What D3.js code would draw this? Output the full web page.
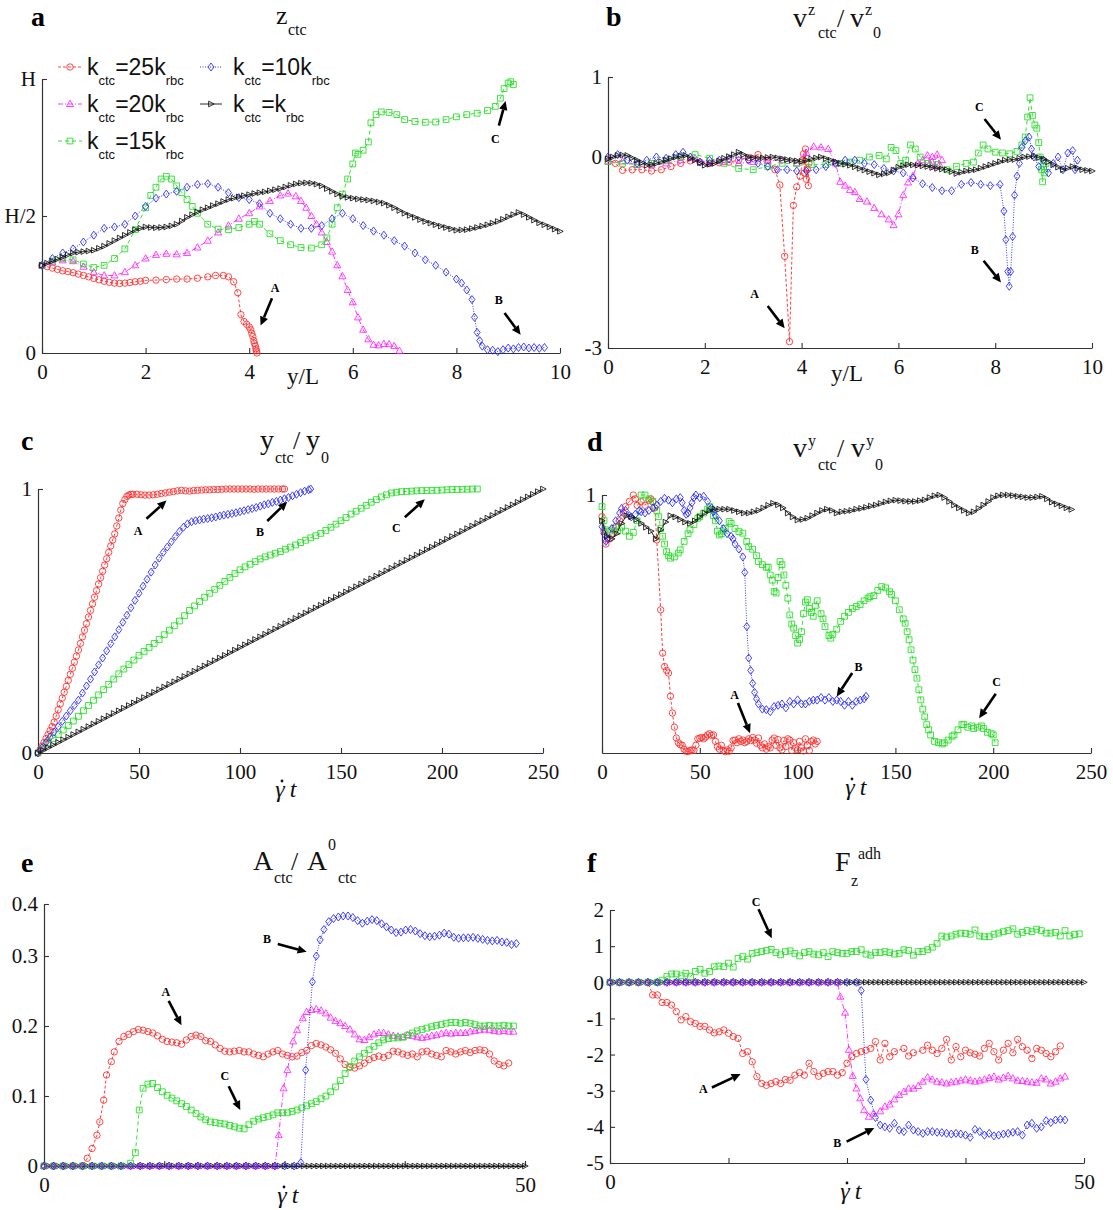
<!DOCTYPE html>
<html><head><meta charset="utf-8">
<script src="https://cdn.jsdelivr.net/npm/d3@7"></script>
<style>body{margin:0;background:#fff}</style>
</head><body>
<svg id="fig" width="1113" height="1210" xmlns="http://www.w3.org/2000/svg"></svg>
<script>
// ---------------- DATA ----------------
// panel a : z_ctc vs y/L   [y/L, z/H]
const aRed = [[0,0.32],[0.1,0.315],[0.2,0.31],[0.3,0.305],[0.4,0.30],[0.5,0.297],[0.6,0.293],[0.7,0.288],[0.8,0.283],[0.9,0.278],[1.0,0.272],[1.1,0.267],[1.2,0.262],[1.3,0.258],[1.4,0.255],[1.5,0.254],[1.6,0.255],[1.7,0.257],[1.8,0.26],[1.9,0.262],[2.0,0.265],[2.2,0.266],[2.4,0.268],[2.6,0.27],[2.8,0.27],[3.0,0.273],[3.2,0.278],[3.35,0.283],[3.5,0.283],[3.6,0.278],[3.7,0.26],[3.78,0.22],[3.84,0.14],[3.9,0.115],[3.95,0.105],[4.0,0.095],[4.03,0.085],[4.05,0.072],[4.07,0.06],[4.09,0.045],[4.1,0.035],[4.12,0.025],[4.13,0.015],[4.14,0.008],[4.15,0.0]];
const aMag = [[0,0.32],[0.2,0.33],[0.4,0.338],[0.6,0.335],[0.8,0.315],[1.0,0.295],[1.2,0.283],[1.4,0.283],[1.6,0.295],[1.8,0.32],[2.0,0.345],[2.2,0.358],[2.4,0.362],[2.6,0.36],[2.8,0.365],[3.0,0.385],[3.2,0.41],[3.4,0.44],[3.6,0.465],[3.8,0.49],[4.0,0.51],[4.2,0.535],[4.4,0.555],[4.6,0.575],[4.75,0.582],[4.9,0.572],[5.0,0.555],[5.1,0.53],[5.2,0.5],[5.3,0.47],[5.4,0.44],[5.5,0.405],[5.6,0.37],[5.7,0.32],[5.8,0.28],[5.9,0.23],[6.0,0.185],[6.1,0.13],[6.2,0.085],[6.3,0.05],[6.4,0.03],[6.5,0.028],[6.6,0.033],[6.7,0.032],[6.8,0.025],[6.9,0.008]];
const aGreen = [[0,0.32],[0.2,0.335],[0.4,0.345],[0.6,0.34],[0.8,0.325],[1.0,0.312],[1.2,0.32],[1.4,0.345],[1.6,0.38],[1.8,0.45],[2.0,0.53],[2.1,0.575],[2.2,0.605],[2.3,0.635],[2.4,0.645],[2.5,0.635],[2.6,0.61],[2.7,0.585],[2.8,0.56],[2.9,0.535],[3.0,0.51],[3.2,0.47],[3.4,0.452],[3.6,0.45],[3.8,0.458],[4.0,0.47],[4.1,0.48],[4.2,0.47],[4.4,0.435],[4.6,0.41],[4.8,0.395],[5.0,0.385],[5.2,0.383],[5.4,0.395],[5.5,0.42],[5.6,0.47],[5.7,0.53],[5.8,0.58],[5.9,0.635],[6.0,0.69],[6.05,0.73],[6.1,0.725],[6.2,0.74],[6.3,0.77],[6.35,0.84],[6.45,0.87],[6.55,0.88],[6.7,0.878],[6.85,0.87],[7.0,0.852],[7.2,0.845],[7.4,0.842],[7.6,0.843],[7.8,0.852],[8.0,0.862],[8.2,0.87],[8.4,0.875],[8.6,0.885],[8.75,0.9],[8.85,0.93],[8.92,0.965],[9.0,0.985],[9.05,0.99],[9.1,0.98]];
const aBlue = [[0,0.32],[0.2,0.345],[0.4,0.365],[0.6,0.38],[0.8,0.405],[1.0,0.43],[1.2,0.455],[1.4,0.46],[1.6,0.47],[1.8,0.5],[2.0,0.535],[2.2,0.565],[2.4,0.58],[2.6,0.59],[2.8,0.605],[3.0,0.615],[3.2,0.618],[3.4,0.605],[3.6,0.585],[3.8,0.567],[4.0,0.56],[4.2,0.545],[4.4,0.51],[4.6,0.49],[4.8,0.47],[5.0,0.455],[5.2,0.455],[5.4,0.465],[5.6,0.49],[5.8,0.51],[6.0,0.49],[6.2,0.465],[6.4,0.445],[6.6,0.43],[6.8,0.41],[7.0,0.39],[7.2,0.365],[7.4,0.34],[7.6,0.32],[7.8,0.295],[8.0,0.27],[8.1,0.255],[8.2,0.23],[8.3,0.195],[8.35,0.13],[8.4,0.075],[8.45,0.045],[8.5,0.025],[8.6,0.012],[8.7,0.01],[8.8,0.005],[8.9,0.012],[9.0,0.018],[9.1,0.015],[9.2,0.02],[9.3,0.022],[9.4,0.018],[9.5,0.02],[9.6,0.017],[9.7,0.02]];
const aBlackStep = 0.1;
const aBlack = [0.32,0.328,0.335,0.343,0.35,0.358,0.365,0.368,0.37,0.372,0.375,0.382,0.39,0.4,0.41,0.42,0.43,0.44,0.45,0.455,0.46,0.458,0.457,0.458,0.46,0.464,0.47,0.482,0.495,0.505,0.515,0.523,0.53,0.538,0.545,0.553,0.56,0.565,0.57,0.574,0.578,0.582,0.585,0.588,0.592,0.596,0.6,0.606,0.612,0.617,0.62,0.621,0.62,0.616,0.61,0.6,0.59,0.58,0.572,0.568,0.565,0.562,0.56,0.558,0.555,0.551,0.547,0.539,0.53,0.52,0.51,0.502,0.495,0.487,0.48,0.474,0.468,0.463,0.458,0.453,0.448,0.449,0.45,0.454,0.458,0.463,0.468,0.474,0.48,0.488,0.497,0.505,0.513,0.505,0.495,0.485,0.475,0.468,0.46,0.452,0.444];

// panel b : v^z_ctc / v^z_0 vs y/L
const bRed = [[0,-0.03],[0.15,-0.1],[0.3,-0.21],[0.5,-0.2],[0.7,-0.2],[0.9,-0.22],[1.1,-0.2],[1.3,-0.15],[1.5,-0.1],[1.7,-0.06],[1.9,-0.08],[2.1,-0.1],[2.3,-0.09],[2.5,-0.08],[2.7,-0.05],[2.9,-0.01],[3.1,0.03],[3.3,-0.05],[3.45,-0.2],[3.55,-0.44],[3.65,-1.56],[3.75,-2.9],[3.83,-0.76],[3.9,-0.47],[3.97,-0.3],[4.02,-0.05],[4.04,0.04],[4.06,-0.25],[4.08,0.1],[4.1,-0.35],[4.12,-0.2],[4.14,-0.45],[4.15,-0.1]];
const bMag = [[0,-0.07],[0.3,-0.07],[0.6,-0.12],[0.9,-0.13],[1.2,-0.1],[1.5,-0.05],[1.8,-0.02],[2.1,-0.1],[2.4,-0.08],[2.7,-0.1],[3.0,-0.08],[3.3,-0.06],[3.6,-0.05],[3.9,-0.1],[4.1,0.05],[4.25,0.13],[4.4,0.12],[4.55,0.1],[4.7,-0.1],[4.8,-0.39],[4.9,-0.45],[5.0,-0.52],[5.1,-0.55],[5.2,-0.66],[5.35,-0.7],[5.5,-0.8],[5.65,-0.9],[5.8,-0.98],[5.9,-1.07],[6.0,-0.9],[6.1,-0.6],[6.2,-0.4],[6.3,-0.3],[6.4,-0.1],[6.5,-0.05],[6.6,0.02],[6.65,-0.1],[6.7,0.0],[6.75,-0.15],[6.8,0.03],[6.85,-0.12],[6.9,-0.05]];
const bGreen = [[0,-0.07],[0.3,-0.1],[0.6,-0.12],[0.9,-0.1],[1.2,-0.06],[1.5,0.0],[1.8,0.03],[2.1,-0.02],[2.4,-0.1],[2.7,-0.18],[3.0,-0.2],[3.3,-0.15],[3.6,-0.1],[3.9,-0.1],[4.2,-0.12],[4.5,-0.12],[4.8,-0.1],[5.0,-0.08],[5.2,-0.05],[5.4,0.0],[5.6,0.02],[5.75,-0.03],[5.85,0.12],[5.95,0.08],[6.05,-0.1],[6.15,-0.05],[6.25,0.15],[6.35,0.1],[6.45,0.0],[6.6,-0.1],[6.8,-0.12],[7.0,-0.2],[7.2,-0.15],[7.4,-0.1],[7.55,-0.08],[7.65,0.05],[7.75,0.15],[7.85,0.1],[8.0,0.06],[8.15,0.05],[8.3,0.04],[8.45,0.07],[8.55,0.15],[8.62,0.25],[8.67,0.5],[8.72,0.74],[8.77,0.52],[8.82,0.4],[8.86,0.36],[8.9,0.18],[8.93,0.0],[8.96,-0.2],[8.98,-0.39],[9.0,-0.15],[9.02,-0.25],[9.05,-0.1]];
const bBlue = [[0,0.0],[0.2,0.03],[0.4,-0.05],[0.6,-0.1],[0.8,-0.05],[1.0,0.0],[1.2,-0.02],[1.4,0.03],[1.55,0.06],[1.7,0.0],[1.9,-0.08],[2.1,-0.05],[2.3,-0.05],[2.5,-0.03],[2.7,0.0],[2.9,-0.05],[3.1,-0.1],[3.3,-0.15],[3.5,-0.2],[3.7,-0.2],[3.9,-0.22],[4.1,-0.22],[4.3,-0.2],[4.5,-0.15],[4.7,-0.1],[4.9,-0.05],[5.1,-0.05],[5.3,-0.1],[5.5,-0.12],[5.7,-0.18],[5.9,-0.22],[6.1,-0.25],[6.3,-0.33],[6.5,-0.42],[6.7,-0.48],[6.9,-0.53],[7.1,-0.53],[7.3,-0.43],[7.5,-0.4],[7.7,-0.43],[7.9,-0.45],[8.1,-0.43],[8.18,-0.85],[8.22,-1.3],[8.26,-1.8],[8.29,-2.03],[8.32,-1.8],[8.36,-1.25],[8.4,-0.6],[8.45,-0.3],[8.5,-0.1],[8.55,0.12],[8.62,0.2],[8.7,0.25],[8.75,0.1],[8.8,0.0],[8.9,-0.15],[9.0,-0.05],[9.1,-0.25],[9.2,-0.1],[9.3,0.0],[9.4,-0.2],[9.5,0.05],[9.6,0.08],[9.65,-0.2],[9.7,-0.05]];
const bBlackStep = 0.1;
const bBlack = [-0.03,0.0,0.02,0.025,0.02,-0.015,-0.05,-0.09,-0.13,-0.12,-0.1,-0.075,-0.05,-0.025,0.0,0.01,0.02,-0.015,-0.05,-0.09,-0.13,-0.115,-0.1,-0.06,-0.02,0.005,0.03,0.06,0.03,0.0,-0.01,-0.02,-0.013,-0.007,0.0,-0.013,-0.027,-0.04,-0.05,-0.06,-0.07,-0.05,-0.03,-0.015,0.0,-0.025,-0.05,-0.075,-0.1,-0.115,-0.13,-0.155,-0.18,-0.205,-0.23,-0.255,-0.28,-0.265,-0.25,-0.205,-0.16,-0.14,-0.12,-0.125,-0.13,-0.14,-0.15,-0.165,-0.18,-0.19,-0.2,-0.23,-0.26,-0.24,-0.22,-0.21,-0.2,-0.175,-0.15,-0.125,-0.1,-0.075,-0.05,-0.045,-0.04,-0.02,0.0,0.005,0.01,-0.01,-0.03,-0.075,-0.12,-0.16,-0.2,-0.175,-0.15,-0.175,-0.2,-0.21,-0.22];

// panel c : y_ctc / y_0 vs shear time
const cRed = [[0,0],[1,0.012],[2,0.026],[3,0.04],[4,0.055],[5,0.07],[6,0.085],[7,0.1],[8,0.117],[9,0.14],[10,0.164],[11,0.186],[12,0.208],[13,0.23],[14,0.252],[15,0.275],[16,0.298],[17,0.321],[18,0.344],[19,0.367],[20,0.39],[21,0.415],[22,0.44],[23,0.465],[24,0.49],[25,0.515],[26,0.54],[27,0.565],[28,0.59],[29,0.615],[30,0.64],[31,0.664],[32,0.688],[33,0.712],[34,0.736],[35,0.76],[36,0.784],[37,0.807],[38,0.83],[39,0.86],[40,0.89],[41,0.92],[42,0.945],[43,0.96],[44,0.972],[45,0.977],[46,0.98],[47,0.98],[49,0.98],[51,0.978],[53,0.977],[55,0.977],[57,0.978],[59,0.98],[61,0.983],[63,0.985],[65,0.988],[67,0.99],[69,0.993],[71,0.995],[73,0.993],[75,0.992],[77,0.994],[79,0.995],[81,0.996],[83,0.997],[85,0.997],[87,0.998],[89,0.998],[91,0.999],[93,1.0],[95,1.0],[97,1.0],[99,1.0],[101,1.0],[103,1.0],[105,1.0],[107,0.999],[109,1.0],[111,1.0],[113,1.0],[115,1.0],[117,1.0],[119,1.0],[121,1.0],[122,1.0]];
const cBlue = [[0,0],[2,0.02],[4,0.04],[6,0.06],[8,0.08],[10,0.10],[12,0.12],[14,0.14],[16,0.16],[18,0.18],[20,0.2],[22,0.227],[24,0.254],[26,0.28],[28,0.307],[30,0.334],[32,0.36],[34,0.387],[36,0.414],[38,0.44],[40,0.467],[42,0.495],[44,0.522],[46,0.55],[48,0.578],[50,0.605],[52,0.632],[54,0.658],[56,0.685],[58,0.712],[60,0.738],[62,0.76],[64,0.78],[66,0.8],[68,0.82],[70,0.839],[72,0.855],[74,0.868],[76,0.876],[78,0.88],[80,0.883],[82,0.886],[84,0.888],[86,0.891],[88,0.894],[90,0.898],[92,0.901],[94,0.904],[96,0.907],[98,0.91],[100,0.914],[102,0.918],[104,0.922],[106,0.926],[108,0.93],[110,0.935],[112,0.94],[114,0.944],[116,0.949],[118,0.953],[120,0.958],[122,0.963],[124,0.968],[126,0.974],[128,0.98],[130,0.986],[132,0.992],[134,0.997],[135,1.0]];
const cGreenStep = 2.5;
const cGreen = [0,0.02,0.04,0.055,0.07,0.087,0.104,0.121,0.139,0.16,0.18,0.2,0.22,0.24,0.26,0.28,0.30,0.318,0.335,0.352,0.37,0.385,0.40,0.415,0.43,0.448,0.465,0.482,0.50,0.52,0.54,0.557,0.574,0.59,0.605,0.62,0.635,0.65,0.665,0.68,0.694,0.705,0.715,0.725,0.735,0.743,0.75,0.757,0.763,0.772,0.78,0.788,0.797,0.806,0.815,0.823,0.832,0.843,0.855,0.867,0.88,0.892,0.905,0.916,0.927,0.938,0.95,0.96,0.97,0.978,0.985,0.988,0.99,0.991,0.992,0.993,0.994,0.994,0.995,0.995,0.996,0.997,0.998,0.998,0.999,0.999,1.0,1.0];
const cBlackStep = 2.5;
const cBlack = [0,0.01,0.02,0.03,0.04,0.05,0.06,0.07,0.08,0.09,0.1,0.11,0.12,0.13,0.14,0.15,0.16,0.17,0.18,0.19,0.2,0.21,0.22,0.23,0.24,0.25,0.26,0.27,0.28,0.29,0.3,0.31,0.32,0.33,0.34,0.35,0.36,0.37,0.38,0.39,0.4,0.41,0.42,0.43,0.44,0.45,0.46,0.47,0.48,0.49,0.5,0.51,0.52,0.53,0.54,0.55,0.56,0.57,0.58,0.59,0.6,0.61,0.62,0.63,0.64,0.65,0.66,0.67,0.68,0.69,0.7,0.71,0.72,0.73,0.74,0.75,0.76,0.77,0.78,0.79,0.8,0.81,0.82,0.83,0.84,0.85,0.86,0.87,0.88,0.89,0.9,0.91,0.92,0.93,0.94,0.95,0.96,0.97,0.98,0.99,1.0];

// panel d : v^y_ctc / v^y_0 vs shear time
const dRed = [[0,0.916],[1,0.86],[2,0.81],[4,0.83],[5.5,0.85],[7,0.877],[9,0.9],[11,0.93],[12,0.955],[14,0.975],[16,1.0],[17,0.985],[18,0.96],[20,0.974],[22,0.96],[24,0.98],[25,0.985],[26,0.975],[27,0.95],[28,0.826],[30,0.555],[31,0.387],[32,0.335],[33,0.32],[34,0.31],[35,0.22],[36,0.155],[37,0.1],[38,0.058],[39,0.04],[40,0.032],[41,0.03],[42,0.015],[43,0.007],[44,0.005],[45,0.01],[46,0.012],[47,0.01],[48,0.03],[49,0.055],[50,0.058],[51,0.06],[52,0.055],[53,0.062],[54,0.07],[55,0.075],[56,0.068],[57,0.07],[58,0.045],[59,0.025],[60,0.015],[61,0.03],[62,0.01],[63,0.005],[64,0.012],[65,0.007],[66,0.02],[67,0.048],[68,0.05],[69,0.04],[70,0.055],[71,0.045],[72,0.05],[73,0.04],[74,0.045],[75,0.055],[76,0.048],[77,0.06],[78,0.05],[79,0.038],[80,0.058],[81,0.03],[82,0.02],[83,0.035],[84,0.015],[85,0.025],[86,0.02],[87,0.05],[88,0.058],[89,0.03],[90,0.052],[91,0.02],[92,0.012],[93,0.048],[94,0.025],[95,0.055],[96,0.05],[97,0.01],[98,0.04],[99,0.02],[100,0.012],[101,0.045],[102,0.02],[103,0.008],[104,0.055],[105,0.03],[106,0.01],[107,0.045],[108,0.05],[109,0.035],[110,0.045]];
const dBlue = [[0,0.877],[1,0.85],[2,0.82],[3,0.83],[5,0.87],[7,0.9],[9,0.93],[10,0.948],[12,0.94],[14,0.92],[15,0.915],[17,0.925],[19,0.94],[20,0.935],[22,0.93],[24,0.94],[26,0.95],[28,0.96],[30,0.975],[32,0.987],[34,0.98],[36,0.97],[38,0.985],[40,0.99],[41,0.97],[42,0.94],[43,0.925],[44,0.93],[45,0.95],[46,0.97],[47,0.99],[48,1.0],[50,0.99],[52,0.995],[54,0.975],[56,0.95],[57,0.935],[58,0.92],[60,0.9],[62,0.87],[64,0.85],[66,0.84],[67,0.83],[68,0.81],[70,0.79],[72,0.76],[73,0.7],[74,0.49],[75,0.368],[76,0.32],[77,0.27],[78,0.235],[79,0.21],[80,0.19],[82,0.17],[84,0.168],[86,0.16],[88,0.18],[90,0.185],[92,0.19],[94,0.175],[96,0.2],[98,0.19],[100,0.206],[102,0.19],[104,0.19],[106,0.2],[108,0.205],[110,0.205],[112,0.215],[114,0.205],[116,0.215],[118,0.2],[120,0.205],[122,0.2],[124,0.185],[126,0.2],[128,0.185],[130,0.2],[132,0.205],[134,0.21],[135,0.22]];
const dGreen = [[0,0.955],[1,0.9],[2,0.865],[4,0.86],[6,0.87],[8,0.86],[10,0.875],[12,0.86],[14,0.84],[16,0.855],[18,0.9],[20,1.0],[22,1.0],[24,0.985],[26,0.975],[28,0.94],[29,0.916],[30,0.87],[31,0.84],[32,0.81],[33,0.78],[34,0.765],[35,0.755],[37,0.76],[39,0.775],[40,0.787],[42,0.82],[44,0.85],[45,0.865],[47,0.885],[49,0.91],[50,0.916],[52,0.93],[54,0.945],[55,0.955],[56,0.945],[57,0.92],[58,0.9],[59,0.86],[60,0.845],[61,0.85],[62,0.86],[63,0.87],[65,0.897],[66,0.89],[68,0.87],[70,0.858],[72,0.852],[74,0.82],[75,0.8],[77,0.79],[79,0.765],[80,0.742],[82,0.73],[84,0.72],[85,0.72],[86,0.69],[87,0.67],[88,0.626],[89,0.62],[90,0.68],[91,0.742],[92,0.73],[93,0.69],[94,0.65],[95,0.6],[96,0.535],[97,0.5],[98,0.484],[99,0.455],[100,0.426],[101,0.44],[102,0.47],[103,0.54],[104,0.585],[105,0.594],[106,0.56],[107,0.545],[108,0.53],[109,0.57],[110,0.59],[112,0.54],[113,0.52],[114,0.49],[116,0.455],[117,0.445],[118,0.46],[120,0.48],[122,0.51],[124,0.53],[126,0.545],[128,0.56],[130,0.568],[132,0.575],[134,0.59],[136,0.6],[137,0.606],[139,0.61],[141,0.63],[143,0.645],[145,0.64],[147,0.625],[148,0.615],[150,0.59],[152,0.555],[154,0.52],[155,0.503],[156,0.47],[157,0.439],[158,0.4],[159,0.36],[160,0.323],[161,0.29],[162,0.245],[163,0.206],[164,0.17],[165,0.14],[166,0.11],[167,0.09],[168,0.07],[170,0.045],[172,0.04],[174,0.035],[175,0.04],[177,0.05],[179,0.065],[180,0.07],[182,0.09],[184,0.11],[185,0.11],[187,0.1],[189,0.105],[190,0.095],[192,0.1],[194,0.105],[195,0.095],[197,0.08],[199,0.075],[200,0.07],[201,0.04]];
const dBlackStep = 2.5;
const dBlack = [0.90,0.84,0.83,0.85,0.89,0.92,0.915,0.905,0.89,0.875,0.86,0.83,0.865,0.895,0.92,0.915,0.905,0.895,0.89,0.9,0.915,0.93,0.94,0.945,0.945,0.945,0.945,0.94,0.935,0.93,0.93,0.935,0.94,0.95,0.96,0.968,0.962,0.95,0.93,0.915,0.903,0.905,0.91,0.92,0.93,0.94,0.945,0.94,0.93,0.935,0.937,0.94,0.945,0.948,0.952,0.957,0.961,0.967,0.973,0.977,0.98,0.978,0.976,0.975,0.975,0.978,0.981,0.99,0.997,1.0,0.99,0.975,0.961,0.95,0.94,0.93,0.935,0.948,0.961,0.975,0.99,0.997,1.0,1.0,0.998,0.995,0.993,0.99,0.99,0.992,0.995,0.985,0.972,0.965,0.958,0.95,0.944];

// panel e : A_ctc / A^0_ctc vs shear time
const eRed = [[0,0],[1,0],[2,0],[3,0],[4,0],[4.5,0.011],[5,0.025],[5.5,0.044],[5.8,0.063],[6.2,0.094],[6.5,0.13],[7,0.149],[7.3,0.163],[7.8,0.178],[8.3,0.185],[8.8,0.188],[9.3,0.192],[9.8,0.195],[10.3,0.194],[10.8,0.192],[11.3,0.19],[11.8,0.186],[12.3,0.181],[12.8,0.178],[13.3,0.177],[13.8,0.176],[14.3,0.174],[14.8,0.18],[15.3,0.185],[15.8,0.187],[16.3,0.185],[16.8,0.179],[17.3,0.178],[17.8,0.173],[18.3,0.168],[18.8,0.164],[19.3,0.163],[19.8,0.164],[20.3,0.165],[20.8,0.163],[21.3,0.163],[21.8,0.16],[22.3,0.158],[22.8,0.156],[23.3,0.16],[23.8,0.163],[24.3,0.165],[24.8,0.16],[25.3,0.158],[25.8,0.156],[26.3,0.157],[26.8,0.162],[27.3,0.165],[27.8,0.172],[28.3,0.175],[28.8,0.173],[29.3,0.17],[29.8,0.166],[30.3,0.161],[30.8,0.153],[31.3,0.145],[31.8,0.141],[32.3,0.14],[32.8,0.143],[33.3,0.147],[33.8,0.152],[34.3,0.155],[34.8,0.157],[35.3,0.155],[35.8,0.158],[36.3,0.164],[36.8,0.163],[37.3,0.16],[37.8,0.158],[38.3,0.16],[38.8,0.156],[39.3,0.163],[39.8,0.164],[40.3,0.16],[40.8,0.158],[41.3,0.156],[41.8,0.165],[42.3,0.163],[42.8,0.16],[43.3,0.163],[43.8,0.165],[44.3,0.162],[44.8,0.165],[45.3,0.166],[45.8,0.165],[46.3,0.16],[46.8,0.15],[47.3,0.145],[47.8,0.143],[48.3,0.147]];
const eMag = [[0,0],[1,0],[2,0],[3,0],[4,0],[5,0],[6,0],[7,0],[8,0],[9,0],[10,0],[11,0],[12,0],[13,0],[14,0],[15,0],[16,0],[17,0],[18,0],[19,0],[20,0],[21,0],[22,0],[23,0],[24,0],[24.4,0.044],[24.9,0.111],[25.3,0.137],[25.9,0.178],[26.3,0.194],[26.9,0.211],[27.3,0.22],[27.8,0.223],[28.3,0.224],[28.8,0.222],[29.3,0.218],[29.8,0.212],[30.3,0.207],[30.8,0.204],[31.3,0.2],[31.8,0.195],[32.3,0.188],[32.8,0.181],[33.3,0.18],[33.8,0.184],[34.3,0.188],[34.8,0.19],[35.3,0.19],[35.8,0.188],[36.3,0.186],[36.8,0.185],[37.3,0.184],[37.8,0.187],[38.3,0.186],[38.8,0.184],[39.3,0.183],[39.8,0.184],[40.3,0.186],[40.8,0.187],[41.3,0.189],[41.8,0.19],[42.3,0.189],[42.8,0.19],[43.3,0.19],[43.8,0.19],[44.3,0.192],[44.8,0.193],[45.3,0.194],[45.8,0.195],[46.3,0.194],[46.8,0.193],[47.3,0.192],[47.8,0.193],[48.3,0.192],[48.8,0.192]];
const eGreen = [[0,0],[1,0],[2,0],[3,0],[4,0],[5,0],[6,0],[7,0],[8,0],[9,0.004],[9.5,0.019],[9.9,0.08],[10.3,0.111],[10.8,0.117],[11.3,0.118],[11.8,0.112],[12.3,0.106],[12.8,0.101],[13.3,0.097],[13.8,0.093],[14.3,0.089],[14.8,0.085],[15.3,0.08],[15.8,0.075],[16.3,0.07],[16.8,0.066],[17.3,0.063],[17.8,0.062],[18.3,0.061],[18.8,0.06],[19.3,0.058],[19.8,0.056],[20.3,0.054],[20.8,0.053],[21.3,0.059],[21.8,0.064],[22.3,0.067],[22.8,0.069],[23.3,0.071],[23.8,0.073],[24.3,0.076],[24.8,0.076],[25.3,0.076],[25.8,0.078],[26.3,0.08],[26.8,0.083],[27.3,0.086],[27.8,0.089],[28.3,0.092],[28.8,0.096],[29.3,0.1],[29.8,0.106],[30.3,0.113],[30.8,0.122],[31.3,0.132],[31.8,0.142],[32.3,0.15],[32.8,0.156],[33.3,0.161],[33.8,0.166],[34.3,0.171],[34.8,0.176],[35.3,0.18],[35.8,0.182],[36.3,0.183],[36.8,0.183],[37.3,0.184],[37.8,0.187],[38.3,0.19],[38.8,0.193],[39.3,0.195],[39.8,0.197],[40.3,0.199],[40.8,0.201],[41.3,0.202],[41.8,0.204],[42.3,0.205],[42.8,0.205],[43.3,0.204],[43.8,0.205],[44.3,0.204],[44.8,0.202],[45.3,0.2],[45.8,0.2],[46.3,0.201],[46.8,0.2],[47.3,0.2],[47.8,0.201],[48.3,0.2],[48.8,0.2]];
const eBlue = [[0,0],[1,0],[2,0],[3,0],[4,0],[5,0],[6,0],[7,0],[8,0],[9,0],[10,0],[11,0],[12,0],[13,0],[14,0],[15,0],[16,0],[17,0],[18,0],[19,0],[20,0],[21,0],[22,0],[23,0],[24,0],[25,0],[26,0],[26.7,0.005],[27.2,0.137],[27.9,0.263],[28.3,0.3],[28.7,0.331],[29.1,0.351],[29.6,0.366],[30.1,0.372],[30.6,0.375],[31.1,0.377],[31.6,0.377],[32.1,0.374],[32.6,0.368],[33.1,0.363],[33.6,0.367],[34.1,0.37],[34.6,0.368],[35.1,0.362],[35.6,0.356],[36.1,0.35],[36.6,0.345],[37.1,0.346],[37.6,0.35],[38.1,0.351],[38.6,0.348],[39.1,0.343],[39.6,0.339],[40.1,0.337],[40.6,0.338],[41.1,0.34],[41.6,0.344],[42.1,0.342],[42.6,0.336],[43.1,0.334],[43.6,0.335],[44.1,0.335],[44.6,0.336],[45.1,0.334],[45.6,0.332],[46.1,0.33],[46.6,0.329],[47.1,0.33],[47.6,0.327],[48.1,0.326],[48.6,0.322],[49.1,0.324]];
const efBlackStep = 0.5;
const eBlack = [0,0,0,0,0,0,0,0,0,0,0,0,0,0,0,0,0,0,0,0,0,0,0,0,0,0,0,0,0,0,0,0,0,0,0,0,0,0,0,0,0,0,0,0,0,0,0,0,0,0,0,0,0,0,0,0,0,0,0,0,0,0,0,0,0,0,0,0,0,0,0,0,0,0,0,0,0,0,0,0,0,0,0,0,0,0,0,0,0,0,0,0,0,0,0,0,0,0,0,0,0];

// panel f : F_z^adh vs shear time
const fRed = [[0,0],[1,0],[2,0],[3,0],[4,0],[4.5,-0.35],[5,-0.35],[5.5,-0.56],[6,-0.56],[6.5,-0.63],[7,-0.81],[7.5,-1.04],[8,-0.95],[8.5,-1.09],[9,-1.14],[9.5,-1.22],[10,-1.22],[10.5,-1.32],[11,-1.4],[11.5,-1.37],[12,-1.32],[12.5,-1.41],[13,-1.5],[13.5,-1.55],[14,-1.97],[14.5,-1.92],[15,-2.2],[15.5,-2.61],[16,-2.8],[16.5,-2.85],[17,-2.8],[17.5,-2.75],[18,-2.8],[18.5,-2.69],[19,-2.71],[19.5,-2.57],[20,-2.5],[20.5,-2.57],[21,-2.24],[21.5,-2.47],[22,-2.6],[22.5,-2.52],[23,-2.47],[23.5,-2.47],[24,-2.57],[24.5,-2.5],[25,-2.24],[25.5,-2.06],[26,-1.97],[26.5,-1.92],[27,-1.88],[27.5,-1.83],[28,-1.64],[28.5,-2.15],[29,-1.69],[29.5,-2.06],[30,-1.92],[31,-1.83],[31.5,-2.04],[32,-1.95],[33,-1.88],[33.5,-1.74],[34,-1.88],[34.5,-1.97],[35,-1.83],[35.5,-1.58],[36,-2.15],[36.5,-1.78],[37,-2.06],[37.5,-1.88],[38,-1.95],[38.5,-1.99],[39,-2.04],[39.5,-1.83],[40,-1.69],[40.5,-1.92],[41,-2.15],[41.5,-1.88],[42,-1.69],[42.5,-1.95],[43,-1.58],[43.5,-1.78],[44,-1.88],[44.5,-2.11],[45,-1.83],[45.5,-1.88],[46,-1.97],[46.5,-2.06],[47,-1.92],[47.5,-1.76]];
const fMag = [[0,0],[1,0],[2,0],[3,0],[4,0],[5,0],[6,0],[7,0],[8,0],[9,0],[10,0],[11,0],[12,0],[13,0],[14,0],[15,0],[16,0],[17,0],[18,0],[19,0],[20,0],[21,0],[22,0],[23,0],[24,0],[24.3,-0.4],[24.8,-0.84],[25.2,-1.87],[25.6,-2.59],[26,-2.94],[26.4,-3.21],[26.8,-3.54],[27.3,-3.72],[27.8,-3.63],[28.5,-3.57],[29,-3.44],[29.5,-3.38],[30,-3.24],[30.5,-3.12],[31,-3.03],[31.5,-2.94],[32,-2.94],[32.5,-2.87],[33,-2.75],[33.5,-2.63],[34,-2.69],[34.5,-2.75],[35,-2.77],[35.5,-2.8],[36,-2.77],[36.5,-2.75],[37,-2.72],[37.5,-2.69],[38,-2.72],[38.5,-2.75],[39,-2.72],[39.5,-2.69],[40,-2.65],[40.5,-2.61],[41,-2.69],[41.5,-2.64],[42,-2.59],[42.5,-2.66],[43,-2.72],[43.5,-2.73],[44,-2.75],[44.5,-2.77],[45,-2.78],[45.5,-2.66],[46,-2.69],[46.5,-2.8],[47,-2.75],[47.5,-2.66],[48,-2.61]];
const fGreen = [[0,0],[1,0],[2,0],[3,0],[4,0],[5,0],[5.5,0.06],[6,0.16],[6.5,0.23],[7,0.23],[7.5,0.18],[8,0.25],[8.5,0.16],[9,0.3],[9.5,0.36],[10,0.25],[10.5,0.3],[11,0.43],[11.5,0.45],[12,0.43],[12.5,0.53],[13,0.42],[13.5,0.66],[14,0.71],[14.5,0.64],[15,0.8],[15.5,0.82],[16,0.85],[16.5,0.88],[17,0.91],[17.5,0.82],[18,0.76],[18.5,0.85],[19,0.87],[19.5,0.8],[20,0.73],[20.5,0.82],[21,0.85],[21.5,0.78],[22,0.76],[22.5,0.82],[23,0.71],[23.5,0.85],[24,0.82],[24.5,0.8],[25,0.8],[25.5,0.85],[26,0.85],[26.5,0.9],[27,0.78],[27.5,0.75],[28,0.82],[28.5,0.82],[29,0.85],[29.5,0.82],[30,0.78],[30.5,0.8],[31,0.9],[31.5,0.88],[32,0.75],[32.5,0.85],[33,0.85],[33.5,0.9],[34,0.97],[34.5,1.08],[35,1.28],[35.5,1.25],[36,1.28],[36.5,1.33],[37,1.36],[37.5,1.35],[38,1.33],[38.5,1.45],[39,1.28],[39.5,1.26],[40,1.26],[40.5,1.33],[41,1.36],[41.5,1.4],[42,1.43],[42.5,1.48],[43,1.33],[43.5,1.38],[44,1.43],[44.5,1.4],[45,1.47],[45.5,1.43],[46,1.36],[46.5,1.36],[47,1.38],[47.5,1.28],[48,1.43],[48.5,1.28],[49,1.32],[49.5,1.34]];
const fBlue = [[0,0],[1,0],[2,0],[3,0],[4,0],[5,0],[6,0],[7,0],[8,0],[9,0],[10,0],[11,0],[12,0],[13,0],[14,0],[15,0],[16,0],[17,0],[18,0],[19,0],[20,0],[21,0],[22,0],[23,0],[24,0],[25,0],[26,0],[26.5,-0.23],[27,-2.69],[27.5,-3.26],[28,-3.74],[28.5,-3.95],[29,-4.0],[29.5,-4.04],[30,-3.9],[30.5,-4.09],[31,-4.13],[31.5,-3.95],[32,-4.09],[32.5,-4.13],[33,-4.18],[33.5,-4.13],[34,-4.13],[34.5,-4.15],[35,-4.16],[35.5,-4.18],[36,-4.2],[36.5,-4.18],[37,-4.2],[37.5,-4.23],[38,-4.29],[38.5,-4.07],[39,-4.13],[39.5,-4.23],[40,-4.18],[40.5,-4.25],[41,-4.23],[41.5,-4.2],[42,-4.18],[42.5,-4.15],[43,-4.13],[43.5,-4.23],[44,-3.95],[44.5,-3.9],[45,-4.04],[45.5,-4.0],[46,-3.83],[46.5,-3.88],[47,-3.81],[47.5,-3.79],[48,-3.81]];
const fBlack = [0,0,0,0,0,0,0,0,0,0,0,0,0,0,0,0,0,0,0,0,0,0,0,0,0,0,0,0,0,0,0,0,0,0,0,0,0,0,0,0,0,0,0,0,0,0,0,0,0,0,0,0,0,0,0,0,0,0,0,0,0,0,0,0,0,0,0,0,0,0,0,0,0,0,0,0,0,0,0,0,0,0,0,0,0,0,0,0,0,0,0,0,0,0,0,0,0,0,0,0,0];

// tick values / labels
const ticksA = {x:[0,2,4,6,8,10], xl:["0","2","4","6","8","10"], y:[0,0.5,1], yl:["0","H/2","H"]};
const ticksB = {x:[0,2,4,6,8,10], xl:["0","2","4","6","8","10"], y:[-3,0,1], yl:["-3","0","1"]};
const ticksC = {x:[0,50,100,150,200,250], xl:["0","50","100","150","200","250"], y:[0,1], yl:["0","1"]};
const ticksD = {x:[0,50,100,150,200,250], xl:["0","50","100","150","200","250"], y:[1], yl:["1"]};
const ticksE = {x:[0,12.5,25,37.5,50], xl:["0","","","","50"], y:[0,0.1,0.2,0.3,0.4], yl:["0","0.1","0.2","0.3","0.4"]};
const ticksF = {x:[0,12.5,25,37.5,50], xl:["0","","","","50"], y:[-5,-4,-3,-2,-1,0,1,2], yl:["-5","-4","-3","-2","-1","0","1","2"]};

// annotations (data units): label, label pos, arrow tail, arrow head
const annA = [["A",4.5,0.237,4.44,0.2,4.22,0.1],["B",8.82,0.195,8.93,0.146,9.24,0.067],["C",8.75,0.78,8.82,0.83,8.95,0.92]];
const annB = [["A",3.03,-2.15,3.3,-2.34,3.65,-2.69],["B",7.58,-1.46,7.76,-1.63,8.12,-1.97],["C",7.67,0.63,7.78,0.475,8.12,0.215]];
const annC = [["A",49.5,0.842,53.7,0.887,63.6,0.956],["B",109.9,0.836,113.5,0.879,123.4,0.952],["C",177.4,0.851,181.6,0.893,191.5,0.961]];
const annD = [["A",67.8,0.226,69.5,0.194,75.7,0.077],["B",131.1,0.335,127.9,0.31,120,0.219],["C",201.7,0.277,201.3,0.23,192.8,0.135]];
const annE = [["A",12.66,0.248,12.96,0.236,14.29,0.201],["B",23.17,0.332,24.3,0.323,27.3,0.308],["C",18.8,0.128,19.2,0.114,20.4,0.08]];
const annF = [["C",15.4,2.23,15.67,2.02,17.06,1.22],["A",9.84,-2.94,10.75,-2.91,13.78,-2.54],["B",23.98,-4.46,24.96,-4.41,27.88,-4.03]];

// ---------------- DRAWING ----------------
const pairs = (vals, step) => vals.map((v, i) => [+(i * step).toFixed(3), v]);

const STY = {
  k25: {c:"#ff2a2a", dash:"3,2", m:"circle"},
  k20: {c:"#ff22ff", dash:"5,2,1,2", m:"tri"},
  k15: {c:"#22dd22", dash:"4,3", m:"square"},
  k10: {c:"#2323ff", dash:"1,1.5", m:"diamond"},
  k1:  {c:"#111111", dash:null, m:"triR"}
};
const MK = {
  circle: "M3.2,0A3.2,3.2 0 1,1 -3.2,0A3.2,3.2 0 1,1 3.2,0Z",
  tri: "M0,-3.8L3.5,2.5L-3.5,2.5Z",
  square: "M-2.9,-2.9H2.9V2.9H-2.9Z",
  diamond: "M0,-4L3,0L0,4L-3,0Z",
  triR: "M3.2,0L-2.4,-2.8L-2.4,2.8Z"
};
const SERIF = "'Liberation Serif','DejaVu Serif',serif";
const SANS = "'Liberation Sans',Arial,sans-serif";
const svg = d3.select("#fig");

function drawPanel(p) {
  const g = svg.append("g");
  const x = d3.scaleLinear().domain(p.xd).range(p.xr);
  const y = d3.scaleLinear().domain(p.yd).range(p.yr);
  const xb = p.yr[0];
  const xa = g.append("g").attr("transform", `translate(0,${xb})`)
    .call(d3.axisBottom(x).tickValues(p.t.x).tickFormat((d,i)=>p.t.xl[i]).tickSizeInner(-5).tickSizeOuter(0).tickPadding(11));
  const ya = g.append("g").attr("transform", `translate(${p.xr[0]},0)`)
    .call(d3.axisLeft(y).tickValues(p.t.y).tickFormat((d,i)=>p.t.yl[i]).tickSizeInner(-5).tickSizeOuter(0).tickPadding(6));
  [xa, ya].forEach(a => {
    a.selectAll("text").attr("font-family", SERIF).attr("font-size", 21).attr("fill", "#111");
    a.selectAll("line").attr("stroke", "#333").attr("stroke-width", 1.1);
    a.select(".domain").attr("stroke", "#333").attr("stroke-width", 1.2);
  });
  const line = d3.line().x(d=>x(d[0])).y(d=>y(d[1]));
  p.series.forEach(s => {
    const st = STY[s.k];
    g.append("path").datum(s.d).attr("d", line).attr("fill","none")
      .attr("stroke", st.c).attr("stroke-width", 0.9).attr("stroke-dasharray", st.dash);
    g.append("g").selectAll("path").data(s.d).join("path")
      .attr("d", MK[st.m]).attr("transform", d=>`translate(${x(d[0]).toFixed(2)},${y(d[1]).toFixed(2)})`)
      .attr("fill","none").attr("stroke", st.c).attr("stroke-width", 0.85);
  });
  // annotations
  p.ann.forEach(a => {
    const [lab, lx, ly, x1, y1, x2, y2] = a;
    const X1 = x(x1), Y1 = y(y1), X2 = x(x2), Y2 = y(y2);
    const ang = Math.atan2(Y2-Y1, X2-X1), L = 9, W = 4.2;
    const bx = X2 - L*Math.cos(ang), by = Y2 - L*Math.sin(ang);
    g.append("line").attr("x1",X1).attr("y1",Y1).attr("x2",bx).attr("y2",by)
      .attr("stroke","#000").attr("stroke-width",2.6);
    g.append("path").attr("d", `M${X2},${Y2}L${bx+W*Math.sin(ang)},${by-W*Math.cos(ang)}L${bx-W*Math.sin(ang)},${by+W*Math.cos(ang)}Z`).attr("fill","#000");
    g.append("text").attr("x", x(lx)).attr("y", y(ly)+4).attr("text-anchor","middle")
      .attr("font-family", SERIF).attr("font-weight","bold").attr("font-size",12).text(lab);
  });
  // title pieces
  p.title.forEach(tp => {
    g.append("text").attr("x", tp[1]).attr("y", tp[2]).attr("font-family", SERIF)
      .attr("font-size", tp[3]).attr("fill","#111").text(tp[0]);
  });
  // panel letter
  g.append("text").attr("x", p.letter[1]).attr("y", p.letter[2]).attr("font-family", SERIF)
    .attr("font-weight","bold").attr("font-size",28).text(p.letter[0]);
  // axis label
  const [lab, cx, by] = p.xlab;
  if (lab === "gt") {
    g.append("text").attr("x", cx-5).attr("y", by).attr("text-anchor","middle")
      .attr("font-family", SERIF).attr("font-size", 24).attr("font-style","italic").attr("fill","#111").text("\u03B3");
    g.append("circle").attr("cx", cx-3).attr("cy", by-16).attr("r", 1.4).attr("fill","#111");
    g.append("text").attr("x", cx+8).attr("y", by).attr("text-anchor","middle")
      .attr("font-family", SERIF).attr("font-size", 24).attr("font-style","italic").attr("fill","#111").text("t");
  } else {
    g.append("text").attr("x", cx).attr("y", by).attr("text-anchor","middle")
      .attr("font-family", SERIF).attr("font-size", 23).attr("fill","#111").text(lab);
  }
}

const order = (r,m,g,b,k, blackFirst) => {
  const arr = [{k:"k25",d:r}];
  if (m) arr.push({k:"k20",d:m});
  arr.push({k:"k15",d:g},{k:"k10",d:b});
  if (blackFirst) arr.unshift({k:"k1",d:k}); else arr.push({k:"k1",d:k});
  return arr;
};

const panels = [
  {xd:[0,10], xr:[42,560], yd:[0,0.5,1], yr:[353,216,79], t:ticksA,
   series: order(aRed,aMag,aGreen,aBlue,pairs(aBlack,aBlackStep),false), ann: annA,
   title:[["z",276,24,26],["ctc",288,35,16]], letter:["a",31,26], xlab:["y/L",303,384]},
  {xd:[0,10], xr:[608,1092], yd:[-3,0,1], yr:[348,157,77], t:ticksB,
   series: order(bRed,bMag,bGreen,bBlue,pairs(bBlack,bBlackStep),false), ann: annB,
   title:[["v",793,27,28],["z",808,15,16],["ctc",818,38,16],["/",837,27,26],["v",850,27,28],["z",865,15,16],["0",873,38,16]],
   letter:["b",606,26], xlab:["y/L",847,381]},
  {xd:[0,250], xr:[38,543], yd:[0,1], yr:[753,489], t:ticksC,
   series: order(cRed,null,pairs(cGreen,cGreenStep),cBlue,pairs(cBlack,cBlackStep),false), ann: annC,
   title:[["y",260,449,28],["ctc",275,463,16],["/",293,449,26],["y",306,449,28],["0",321,463,16]],
   letter:["c",21,450], xlab:["gt",285,797]},
  {xd:[0,250], xr:[602,1091], yd:[0,1], yr:[753,495], t:ticksD,
   series: order(dRed,null,dGreen,dBlue,pairs(dBlack,dBlackStep),false), ann: annD,
   title:[["v",793,457,28],["y",808,446,16],["ctc",818,470,16],["/",837,457,26],["v",851,457,28],["y",866,446,16],["0",875,470,16]],
   letter:["d",587,451], xlab:["gt",855,795]},
  {xd:[0,50], xr:[44,525], yd:[0,0.3,0.4], yr:[1166,956,904], t:ticksE,
   series: order(eRed,eMag,eGreen,eBlue,pairs(eBlack,efBlackStep),true), ann: annE,
   title:[["A",253,870,28],["ctc",274,883,16],["/",291,870,26],["A",307,870,28],["0",328,850,16],["ctc",338,883,16]],
   letter:["e",21,872], xlab:["gt",287,1203]},
  {xd:[0,50], xr:[610,1084], yd:[-5,2], yr:[1163,910], t:ticksF,
   series: order(fRed,fMag,fGreen,fBlue,pairs(fBlack,efBlackStep),true), ann: annF,
   title:[["F",835,871,28],["adh",858,859,16],["z",851,886,16]],
   letter:["f",587,872], xlab:["gt",850,1199]}
];
panels.forEach(drawPanel);

// legend (panel a)
const legItems = [
  {k:"k25", lab:["=25k","rbc"], col:0, row:0},
  {k:"k20", lab:["=20k","rbc"], col:0, row:1},
  {k:"k15", lab:["=15k","rbc"], col:0, row:2},
  {k:"k10", lab:["=10k","rbc"], col:1, row:0},
  {k:"k1",  lab:["=k","rbc"],   col:1, row:1}
];
const leg = svg.append("g");
legItems.forEach(it => {
  const st = STY[it.k];
  const lx0 = it.col ? 200 : 58, lx1 = it.col ? 222 : 82, ty = 67 + it.row*37;
  leg.append("line").attr("x1",lx0).attr("x2",lx1).attr("y1",ty).attr("y2",ty)
    .attr("stroke",st.c).attr("stroke-width",0.9).attr("stroke-dasharray",st.dash);
  leg.append("path").attr("d",MK[st.m]).attr("transform",`translate(${(lx0+lx1)/2},${ty})`)
    .attr("fill","none").attr("stroke",st.c).attr("stroke-width",0.85);
  const t = leg.append("text").attr("x", it.col ? 233 : 87).attr("y", ty+8)
    .attr("font-family", SANS).attr("font-size", 23).attr("fill","#111");
  t.append("tspan").text("k");
  t.append("tspan").attr("font-size",13).attr("dy",10).text("ctc");
  t.append("tspan").attr("dy",-10).text(it.lab[0]);
  t.append("tspan").attr("font-size",13).attr("dy",10).text(it.lab[1]);
});
</script>
</body></html>
